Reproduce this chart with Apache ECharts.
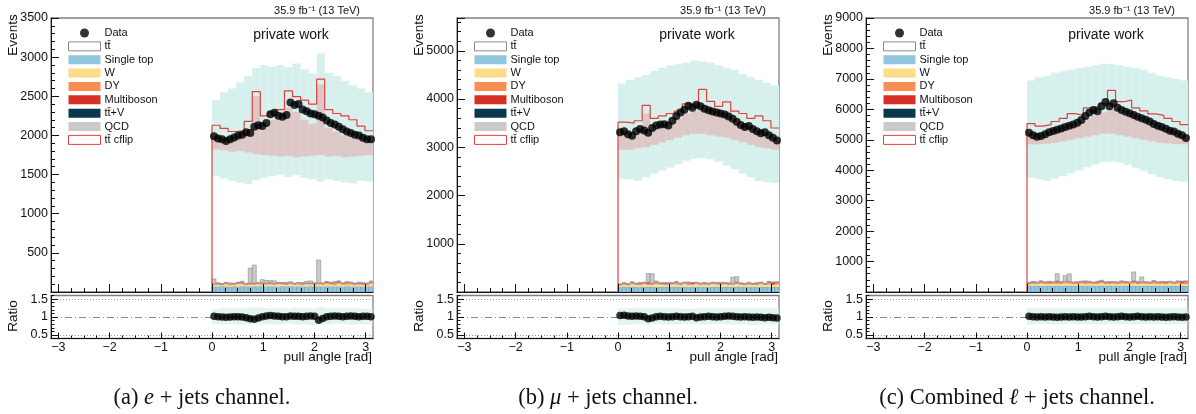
<!DOCTYPE html>
<html><head><meta charset="utf-8">
<script src="https://cdn.jsdelivr.net/npm/echarts@6/dist/echarts.min.js"></script>
<style>html,body{margin:0;padding:0;background:#fff}#c{width:1196px;height:414px}</style>
</head><body><div id="c"></div>
<script>
const PI = Math.PI;
// ---------- tick labels ----------
const xMajorTicks = [-3, -2, -1, 0, 1, 2, 3];
const xMinorTicks = [-2.75,-2.5,-2.25,-1.75,-1.5,-1.25,-0.75,-0.5,-0.25,0.25,0.5,0.75,1.25,1.5,1.75,2.25,2.5,2.75];
const ratioTicks = [0.5, 1, 1.5];
const yMaxes = [3500, 5680, 9000];
const yIntervals = [500, 1000, 1000];
const captions = ['(a) {i|e} + jets channel.', '(b) {i|\u03bc} + jets channel.', '(c) Combined {i|\u2113} + jets channel.'];
const seriesNames = ['Data', 'tt\u0304', 'Single top', 'W', 'DY', 'Multiboson', 'tt\u0304+V', 'QCD', 'tt\u0304 cflip'];

// ---------- panel (a) e + jets : 40 bins in [0, pi] ----------
const dataA = [1990,1960,1950,1930,1950,1975,2000,2010,2040,2030,2110,2130,2120,2160,2270,2290,2250,2240,2260,2420,2390,2400,2330,2310,2280,2270,2250,2230,2190,2160,2140,2110,2080,2050,2030,2010,2000,1970,1950,1950];
const ratioA = [1.02,1.01,1.00,0.99,1.00,1.01,1.01,1.00,0.98,0.95,0.94,0.97,1.01,1.03,1.04,1.03,1.02,1.01,1.01,1.03,1.02,1.02,1.01,1.02,1.03,1.02,0.91,0.96,1.01,1.02,1.03,1.02,1.01,1.02,1.03,1.02,1.01,1.02,1.02,1.01];
const stA  = [70,68,72,70,66,71,69,73,70,68,72,70,74,69,71,70,68,72,70,73,69,71,70,68,72,70,71,69,73,70,68,71,70,72,69,70,71,68,70,72];
const wA   = [18,22,15,25,20,18,30,22,16,24,20,28,18,22,25,19,30,22,18,26,20,24,17,28,22,19,25,21,30,24,18,35,22,20,27,19,23,21,18,32];
const dyA  = [12,15,10,18,14,11,16,20,12,15,13,10,18,14,12,16,11,15,19,13,12,17,14,11,16,13,15,12,18,14,28,13,12,22,15,11,14,16,12,20];
const mbA  = [4,5,3,6,4,5,4,7,5,4,6,3,5,4,8,5,4,6,5,3,5,4,6,5,4,7,5,4,6,5,4,15,5,4,6,5,4,5,6,4];
const ttvA = [3,2,3,3,2,3,4,3,2,3,3,2,3,3,4,2,3,3,2,3,3,2,3,4,3,2,3,3,2,3,3,2,3,4,3,2,3,3,2,3];
const qcdA = [60,5,8,0,10,5,0,12,6,190,230,10,40,35,25,30,8,5,10,15,6,5,12,20,25,8,290,10,5,8,12,6,5,10,8,6,12,5,8,10];
// 20 bins
const ttA     = [1800,1780,1830,1880,1950,2030,2080,2120,2160,2200,2180,2130,2080,2030,1990,1950,1910,1870,1840,1800];
const cflipA  = [2130,2090,2050,2060,2180,2560,2250,2300,2330,2570,2495,2450,2400,2720,2330,2280,2250,2200,2120,2060];
const bandHiA = [2450,2550,2600,2680,2760,2860,2900,2880,2900,2870,2920,2850,2790,3050,2800,2760,2700,2640,2600,2550];
const bandLoA = [1480,1450,1420,1400,1380,1430,1460,1480,1500,1470,1490,1460,1440,1410,1440,1420,1400,1390,1420,1410];
const redLoA  = [1820,1810,1790,1800,1780,1760,1750,1740,1730,1740,1720,1730,1740,1750,1730,1740,1720,1730,1740,1750];
const redHiA  = [1990,1970,2000,2020,2080,2500,2150,2200,2250,2350,2300,2200,2150,2650,2100,2050,2000,1980,1960,1940];
const rbLoA   = [0.80,0.79,0.80,0.78,0.79,0.81,0.80,0.79,0.80,0.81,0.79,0.80,0.78,0.80,0.79,0.81,0.80,0.79,0.80,0.80];
const rbHiA   = [1.22,1.25,1.24,1.26,1.25,1.27,1.26,1.24,1.25,1.23,1.26,1.25,1.24,1.28,1.25,1.26,1.24,1.25,1.24,1.23];

// ---------- panel (b) mu + jets ----------
const dataB = [3310,3330,3270,3240,3330,3380,3350,3300,3400,3450,3470,3480,3450,3550,3650,3720,3780,3860,3820,3880,3850,3800,3770,3740,3720,3700,3680,3640,3590,3530,3460,3420,3440,3380,3330,3290,3310,3250,3200,3140];
const ratioB = [1.04,1.05,1.03,1.02,1.03,1.02,1.01,0.95,0.97,1.01,1.02,1.01,1.00,1.01,1.02,1.01,1.00,1.01,1.02,0.98,1.00,1.01,1.02,1.01,1.00,1.01,1.02,1.03,1.02,1.01,1.00,1.01,1.00,0.99,1.00,0.99,0.98,0.99,0.98,0.97];
const stB  = [100,105,102,108,104,100,106,103,107,101,105,104,108,102,106,103,105,100,107,104,102,106,105,103,108,101,104,106,102,105,107,103,104,100,106,105,102,108,104,103];
const wB   = [30,45,35,50,40,38,55,42,36,60,48,40,35,52,45,38,60,44,40,55,38,42,36,58,44,40,52,38,45,60,40,35,48,42,38,56,40,44,36,50];
const dyB  = [20,25,18,30,22,35,20,28,24,40,22,26,30,20,45,24,22,38,20,26,24,30,22,20,28,35,22,26,20,30,24,22,28,20,26,24,22,45,25,40];
const mbB  = [6,8,5,10,7,6,9,25,6,8,7,10,6,8,9,7,6,8,20,7,6,9,8,7,6,10,8,7,6,9,7,8,6,10,7,8,6,9,30,7];
const ttvB = [5,4,5,6,4,5,5,4,6,5,4,5,6,5,4,5,5,6,4,5,5,4,6,5,5,4,5,6,5,4,5,5,6,4,5,5,4,6,5,5];
const qcdB = [8,5,10,6,8,12,5,180,200,10,6,8,12,5,10,8,6,12,8,5,10,6,8,12,5,10,8,6,130,110,8,5,10,6,12,8,5,10,8,6];
const ttB     = [3050,3080,3120,3180,3250,3320,3420,3500,3580,3620,3600,3540,3460,3390,3320,3250,3180,3120,3060,2980];
const cflipB  = [3520,3500,3550,3870,3600,3650,3700,3750,3900,3900,4200,3950,3850,3940,3750,3700,3600,3650,3550,3400];
const bandHiB = [4320,4400,4450,4500,4580,4650,4700,4720,4750,4800,4780,4750,4700,4650,4600,4520,4450,4400,4330,4280];
const bandLoB = [2350,2330,2300,2380,2450,2520,2580,2650,2720,2760,2780,2750,2700,2620,2550,2450,2380,2300,2280,2260];
const redLoB  = [2950,2950,2980,3000,3050,3100,3150,3200,3250,3280,3280,3250,3220,3200,3150,3100,3050,3000,2980,2950];
const redHiB  = [3250,3230,3300,3700,3400,3450,3550,3600,3700,3750,3780,3700,3650,3750,3550,3450,3400,3350,3300,3200];
const rbLoB   = [0.78,0.79,0.80,0.79,0.81,0.80,0.79,0.80,0.81,0.80,0.79,0.80,0.81,0.80,0.79,0.80,0.78,0.79,0.80,0.79];
const rbHiB   = [1.24,1.25,1.26,1.25,1.24,1.25,1.26,1.24,1.23,1.24,1.25,1.24,1.26,1.25,1.24,1.25,1.26,1.25,1.24,1.25];

// ---------- panel (c) combined l + jets ----------
const dataC = [5230,5150,5100,5120,5180,5250,5290,5330,5370,5420,5460,5500,5560,5650,5780,5900,5980,5940,6100,6240,6100,6200,6050,5980,5920,5870,5810,5760,5710,5660,5600,5520,5460,5420,5360,5300,5270,5200,5150,5060];
const ratioC = [1.02,1.01,1.00,1.01,1.00,1.01,1.00,0.99,1.00,1.01,1.00,1.01,1.00,1.00,1.01,1.02,1.01,1.00,1.01,1.02,1.01,1.00,1.01,1.02,1.01,1.00,1.01,1.02,1.01,1.00,1.01,1.00,1.01,1.00,0.99,1.00,1.01,1.00,0.99,1.00];
const stC  = [195,200,205,198,202,200,196,204,200,198,203,201,197,205,199,202,200,196,204,198,201,203,197,200,205,199,202,198,200,204,196,201,203,199,200,202,198,204,200,197];
const wC   = [50,70,55,80,60,65,75,58,62,90,70,55,65,80,60,72,55,68,85,60,62,70,58,75,65,60,80,55,70,62,58,75,60,68,55,80,62,70,58,65];
const dyC  = [35,40,30,55,38,45,32,60,40,35,50,38,42,30,65,40,36,48,34,40,45,32,38,50,42,36,40,55,38,34,42,60,36,40,45,38,34,50,40,70];
const mbC  = [10,12,8,15,10,12,9,30,11,10,14,9,12,10,15,11,9,13,25,10,12,9,11,14,10,12,28,10,9,13,11,10,12,9,14,10,11,12,35,10];
const ttvC = [8,7,9,8,7,8,9,8,7,8,9,8,7,8,8,9,7,8,8,9,7,8,9,8,7,8,9,8,7,8,8,9,7,8,9,8,7,8,9,8];
const qcdC = [20,15,25,10,18,22,15,240,30,200,250,20,15,25,18,20,15,22,30,18,15,25,20,18,22,15,300,25,170,20,15,22,18,25,20,15,18,22,20,15];
const ttC     = [4850,4830,4900,4980,5080,5200,5320,5450,5600,5720,5700,5600,5480,5370,5250,5140,5030,4930,4850,4780];
const cflipC  = [5530,5450,5500,5600,5700,5860,5800,6050,6100,6200,6620,6250,6300,6050,5950,5850,5800,5700,5600,5500];
const bandHiC = [6950,7050,7100,7200,7250,7300,7350,7400,7450,7500,7480,7450,7400,7350,7300,7200,7100,7050,7000,6950];
const bandLoC = [3750,3700,3650,3720,3800,3900,4000,4100,4200,4270,4280,4250,4180,4080,3980,3880,3780,3700,3650,3620];
const redLoC  = [4850,4850,4870,4900,4950,5000,5050,5100,5150,5200,5200,5150,5100,5050,5000,4950,4900,4880,4860,4850];
const redHiC  = [5180,5100,5200,5300,5400,5500,5550,5700,5800,5900,6000,5900,5800,5750,5650,5500,5400,5300,5200,5100];
const rbLoC   = [0.79,0.80,0.80,0.79,0.80,0.81,0.80,0.80,0.79,0.80,0.81,0.80,0.79,0.80,0.80,0.81,0.80,0.79,0.80,0.80];
const rbHiC   = [1.24,1.25,1.24,1.25,1.26,1.25,1.24,1.25,1.24,1.25,1.24,1.25,1.26,1.25,1.24,1.25,1.24,1.25,1.24,1.25];

// ---------- build ----------
const panels = [
  {data:dataA, ratio:ratioA, layers:[stA,wA,dyA,mbA,ttvA,qcdA], tt:ttA, cflip:cflipA, bandLo:bandLoA, bandHi:bandHiA, redLo:redLoA, redHi:redHiA, rbLo:rbLoA, rbHi:rbHiA},
  {data:dataB, ratio:ratioB, layers:[stB,wB,dyB,mbB,ttvB,qcdB], tt:ttB, cflip:cflipB, bandLo:bandLoB, bandHi:bandHiB, redLo:redLoB, redHi:redHiB, rbLo:rbLoB, rbHi:rbHiB},
  {data:dataC, ratio:ratioC, layers:[stC,wC,dyC,mbC,ttvC,qcdC], tt:ttC, cflip:cflipC, bandLo:bandLoC, bandHi:bandHiC, redLo:redLoC, redHi:redHiC, rbLo:rbLoC, rbHi:rbHiC}
];
const lefts = [51, 457, 866];
const W = 322, MAIN_TOP = 18, MAIN_H = 274, R_TOP = 295.5, R_H = 43;
const COL = {st:'#92c5de', w:'#fddc8a', dy:'#f98e55', mb:'#d73027', ttv:'#08384f', qcd:'#cacaca', cflip:'#e2403f'};
const layerNames = [seriesNames[2], seriesNames[3], seriesNames[4], seriesNames[5], seriesNames[6], seriesNames[7]];
const layerCols = [COL.st, COL.w, COL.dy, COL.mb, COL.ttv, COL.qcd];
const FONT = 'Liberation Sans, Arial, sans-serif';
const SERIF = 'Liberation Serif, Times New Roman, serif';

function rectItem(fill, stroke, lw) {
  return function (params, api) {
    const p0 = api.coord([api.value(0), api.value(3)]);
    const p1 = api.coord([api.value(1), api.value(2)]);
    return {type:'rect', shape:{x:p0[0], y:p0[1], width:p1[0]-p0[0], height:p1[1]-p0[1]},
      style:{fill:fill, stroke:stroke || null, lineWidth: stroke ? lw : 0}};
  };
}
function binsOf(lo, hi) {
  const n = hi.length, w = PI / n, out = [];
  for (let i = 0; i < n; i++) out.push([i*w, (i+1)*w, lo ? lo[i] : 0, hi[i]]);
  return out;
}
function customSeries(name, xi, yi, bins, fill, z, stroke, lw) {
  return {type:'custom', name:name, xAxisIndex:xi, yAxisIndex:yi, z:z, silent:true, animation:false, clip:true,
    data:bins, encode:{x:[0,1], y:[2,3]}, renderItem:rectItem(fill, stroke, lw)};
}

const grid = [], xAxis = [], yAxis = [], series = [], legend = [], graphic = [];
const axLine = {show:true, onZero:false, lineStyle:{color:'#111', width:1}};
const noLine = {show:false, onZero:false};
panels.forEach((P, g) => {
  const L = lefts[g];
  grid.push({left:L, top:MAIN_TOP, width:W, height:MAIN_H, show:true, borderColor:'#808080', borderWidth:1.3, outerBoundsMode:'none'});
  grid.push({left:L, top:R_TOP, width:W, height:R_H, show:true, borderColor:'#808080', borderWidth:1.3, outerBoundsMode:'none'});
  const gm = 2*g, gr = 2*g+1;
  const xm = xAxis.length;
  xAxis.push({type:'value', gridIndex:gm, min:-PI, max:PI, position:'bottom', z:10, axisLine:axLine,
    axisTick:{show:true, inside:true, length:8, customValues:xMajorTicks, lineStyle:{color:'#111'}},
    axisLabel:{show:false}, splitLine:{show:false}});
  xAxis.push({type:'value', gridIndex:gm, min:-PI, max:PI, position:'bottom', z:10, axisLine:noLine,
    axisTick:{show:true, inside:true, length:4, customValues:xMinorTicks, lineStyle:{color:'#111'}},
    axisLabel:{show:false}, splitLine:{show:false}});
  const xr = xAxis.length;
  xAxis.push({type:'value', gridIndex:gr, min:-PI, max:PI, position:'bottom', z:10, axisLine:axLine,
    axisTick:{show:true, inside:true, length:6, customValues:xMajorTicks, lineStyle:{color:'#111'}},
    axisLabel:{show:true, customValues:xMajorTicks, fontSize:12.5, fontFamily:FONT, color:'#111', margin:3,
      formatter: v => (v < 0 ? '\u2212' + Math.abs(v) : String(v))},
    splitLine:{show:false}});
  xAxis.push({type:'value', gridIndex:gr, min:-PI, max:PI, position:'bottom', z:10, axisLine:noLine,
    axisTick:{show:true, inside:true, length:3, customValues:xMinorTicks, lineStyle:{color:'#111'}},
    axisLabel:{show:false}, splitLine:{show:false}});
  const ym = yAxis.length;
  yAxis.push({type:'value', gridIndex:gm, min:0, max:yMaxes[g], interval:yIntervals[g], position:'left', z:10,
    axisLine:axLine, axisTick:{show:true, inside:true, length:8, lineStyle:{color:'#111'}},
    minorTick:{show:true, splitNumber:5, length:4, lineStyle:{color:'#111'}},
    axisLabel:{fontSize:12.5, fontFamily:FONT, color:'#111', margin:3, showMinLabel:false, showMaxLabel: g !== 1,
      formatter: v => String(v)},
    splitLine:{show:false}});
  const yr = yAxis.length;
  yAxis.push({type:'value', gridIndex:gr, min:0.4, max:1.6, position:'left', z:10, axisLine:axLine,
    axisTick:{show:true, inside:true, length:7, customValues:ratioTicks, lineStyle:{color:'#111'}},
    axisLabel:{show:true, customValues:ratioTicks, fontSize:12.5, fontFamily:FONT, color:'#111', margin:3, formatter: v => String(v)},
    splitLine:{show:false}});
  yAxis.push({type:'value', gridIndex:gr, min:0.4, max:1.6, interval:0.1, position:'left', z:10, axisLine:noLine,
    axisTick:{show:true, inside:true, length:3.5, lineStyle:{color:'#111'}},
    axisLabel:{show:false}, splitLine:{show:false}});

  // ---- main panel series ----
  series.push(customSeries(seriesNames[1], xm, ym, binsOf(null, P.tt), '#ffffff', 1));
  const n = P.data.length, w = PI / n;
  const base = new Array(n).fill(0);
  P.layers.forEach((arr, li) => {
    const bins = [];
    for (let i = 0; i < n; i++) { bins.push([i*w, (i+1)*w, base[i], base[i] + arr[i]]); base[i] += arr[i]; }
    series.push(customSeries(layerNames[li], xm, ym, bins, layerCols[li], 2,
      li === 5 ? '#8c8c8c' : (li === 0 ? '#6f9fbb' : null), 0.6));
  });
  series.push(customSeries('band', xm, ym, binsOf(P.bandLo, P.bandHi), 'rgb(214,240,237)', 3));
  series.push(customSeries('redband', xm, ym, binsOf(P.redLo, P.redHi), 'rgba(236,110,110,0.3)', 4));
  const pts = [[0, 0]];
  const cw = PI / P.cflip.length;
  P.cflip.forEach((v, i) => { pts.push([i*cw, v]); pts.push([(i+1)*cw, v]); });
  series.push({type:'line', name:seriesNames[8], xAxisIndex:xm, yAxisIndex:ym, data:pts, symbol:'none', showSymbol:false,
    lineStyle:{color:COL.cflip, width:1.2}, itemStyle:{color:COL.cflip}, z:5, silent:true, animation:false, clip:true});
  const centers = P.data.map((v, i) => (i + 0.5) * w);
  series.push({type:'scatter', name:seriesNames[0], xAxisIndex:xm, yAxisIndex:ym, data:P.data.map((v, i) => [centers[i], v]),
    symbol:'circle', symbolSize:8, itemStyle:{color:'#000'}, z:6, silent:true, animation:false});

  // ---- ratio panel series ----
  series.push(customSeries('rband', xr, yr, binsOf(P.rbLo, P.rbHi), 'rgba(205,237,232,0.6)', 2));
  series.push({type:'scatter', name:'ratio', xAxisIndex:xr, yAxisIndex:yr, data:P.ratio.map((v, i) => [centers[i], v]),
    symbol:'circle', symbolSize:7.5, itemStyle:{color:'#000'}, z:6, silent:true, animation:false,
    markLine:{silent:true, symbol:'none', label:{show:false}, animation:false, z:3, data:[
      {yAxis:1, lineStyle:{color:'#888', type:[7,3,1,3], width:1}},
      {yAxis:1.5, lineStyle:{color:'#9a9a9a', type:[1,2], width:1}},
      {yAxis:0.5, lineStyle:{color:'#9a9a9a', type:[1,2], width:1}}]}});

  // ---- legend ----
  legend.push({orient:'vertical', left:L + 17, top:27.5, padding:0, itemWidth:32, itemHeight:9, itemGap:2.36,
    selectedMode:false, textStyle:{fontSize:11, fontFamily:FONT, color:'#111', lineHeight:11, padding:[0,0,0,-1]},
    data:[
      {name:seriesNames[0], icon:'circle', itemStyle:{color:'#000', borderWidth:0}},
      {name:seriesNames[1], icon:'rect', itemStyle:{color:'#fff', borderColor:'#8a8a8a', borderWidth:1}},
      {name:seriesNames[2], icon:'rect', itemStyle:{color:COL.st, borderWidth:0}},
      {name:seriesNames[3], icon:'rect', itemStyle:{color:COL.w, borderWidth:0}},
      {name:seriesNames[4], icon:'rect', itemStyle:{color:COL.dy, borderWidth:0}},
      {name:seriesNames[5], icon:'rect', itemStyle:{color:COL.mb, borderWidth:0}},
      {name:seriesNames[6], icon:'rect', itemStyle:{color:COL.ttv, borderWidth:0}},
      {name:seriesNames[7], icon:'rect', itemStyle:{color:COL.qcd, borderWidth:0}},
      {name:seriesNames[8], icon:'rect', itemStyle:{color:'#fff', borderColor:COL.cflip, borderWidth:1}}
    ]});

  // ---- texts ----
  graphic.push({type:'text', x:L + W - 13, y:11, style:{text:'35.9 fb\u207B\u00B9 (13 TeV)', font:'11px ' + FONT, fill:'#111', align:'right', verticalAlign:'middle'}});
  graphic.push({type:'text', x:L + 240, y:35, style:{text:'private work', font:'14px ' + FONT, fill:'#111', align:'center', verticalAlign:'middle'}});
  graphic.push({type:'text', x:L - 38, y:35, rotation:PI/2, style:{text:'Events', font:'13.5px ' + FONT, fill:'#111', align:'center', verticalAlign:'middle'}});
  graphic.push({type:'text', x:L - 38, y:316, rotation:PI/2, style:{text:'Ratio', font:'13.5px ' + FONT, fill:'#111', align:'center', verticalAlign:'middle'}});
  graphic.push({type:'text', x:L + W - 1, y:357, style:{text:'pull angle [rad]', font:'13.5px ' + FONT, fill:'#111', align:'right', verticalAlign:'middle'}});
  graphic.push({type:'text', x:L + W/2 - 10, y:398, style:{text:captions[g], font:'22.5px ' + SERIF, fill:'#111', align:'center', verticalAlign:'middle',
    rich:{i:{fontStyle:'italic', fontSize:22.5, fontFamily:SERIF, fill:'#111'}}}});
});

const chart = echarts.init(document.getElementById('c'), null, {renderer:'canvas'});
chart.setOption({animation:false, backgroundColor:'#fff', grid, xAxis, yAxis, series, legend, graphic});
</script></body></html>
